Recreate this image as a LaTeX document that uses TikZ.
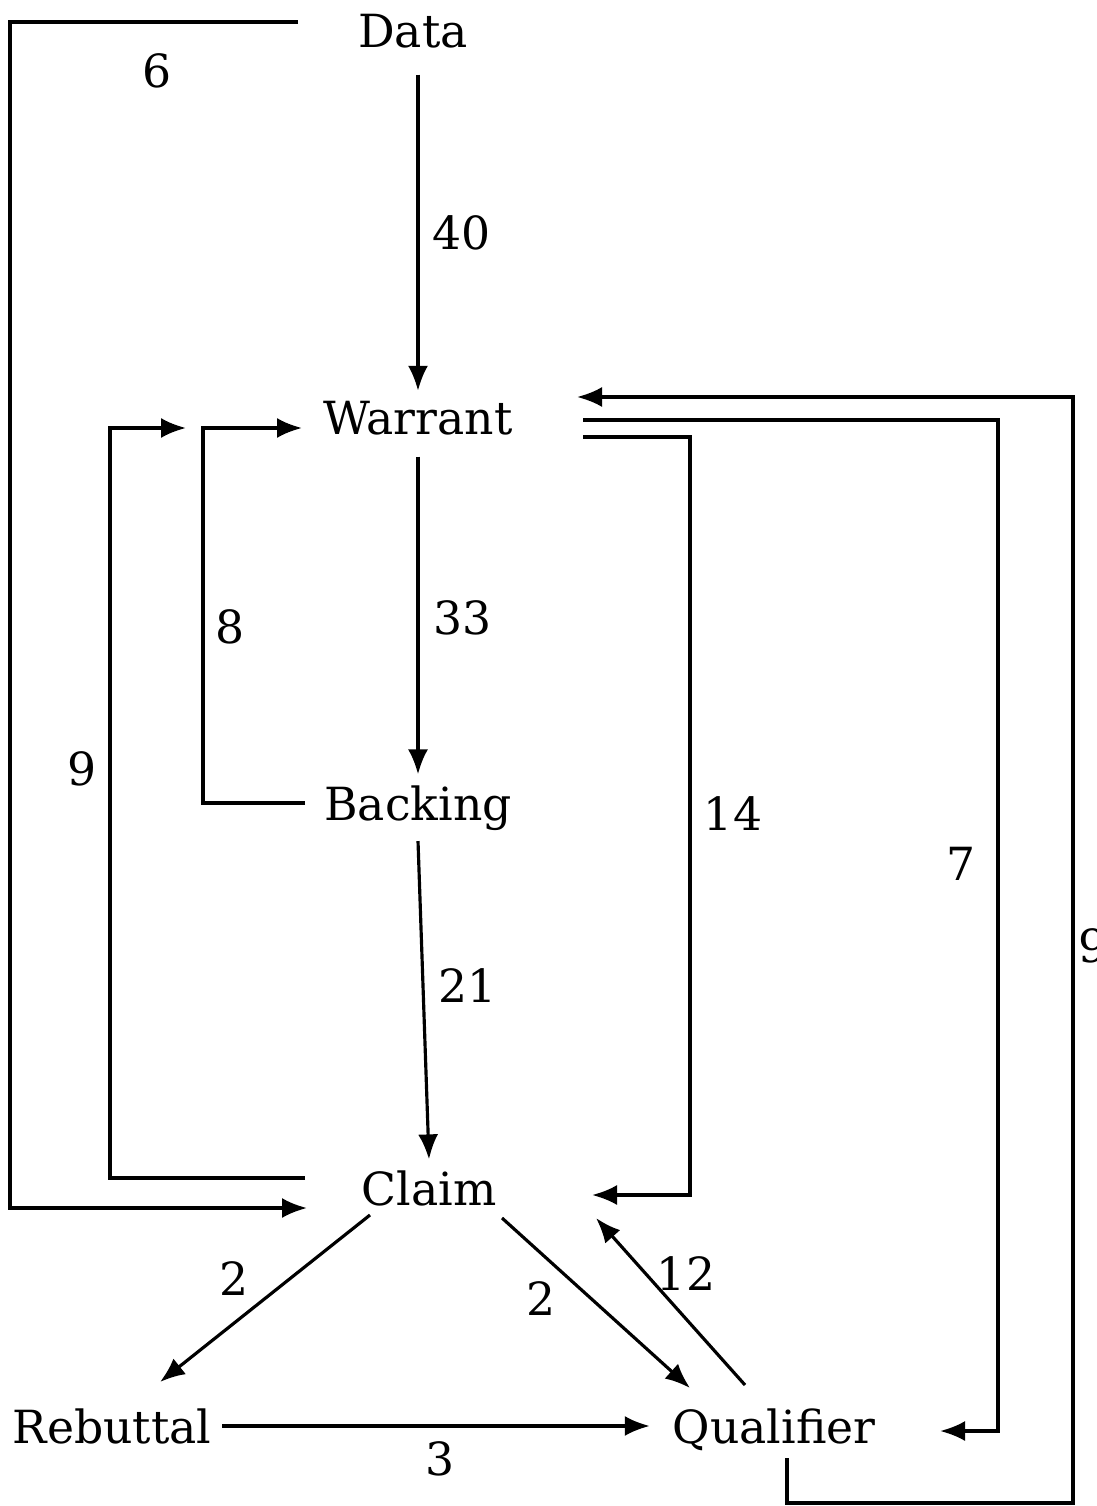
\documentclass[tikz,border=0pt]{standalone}
\usepackage{fontspec}
\setmainfont{DejaVu Serif}
\usetikzlibrary{arrows.meta}

\begin{document}
\begin{tikzpicture}[
    x=0.02cm, y=-0.02cm,
    term/.style={font=\fontsize{26}{31}\selectfont, inner sep=6pt, anchor=base},
    num/.style={font=\fontsize{26}{31}\selectfont, inner sep=0pt, anchor=base},
    link/.style={line width=1.8pt},
    arr/.style={link, -{Latex[length=5mm, width=4mm]}},
]
\useasboundingbox (0,0) rectangle (1097,1506);

% the six parts
\node[term] (data)      at (413,48)   {Data};
\node[term] (warrant)   at (418,435)  {Warrant};
\node[term] (backing)   at (418,820)  {Backing};
\node[term] (claim)     at (429,1205) {Claim};
\node[term] (rebuttal)  at (112,1443) {Rebuttal};
\node[term] (qualifier) at (774,1443) {Qualifier};

% straight links
\draw[arr, shorten <=0.3cm] (warrant.north |- data.south) -- (warrant.north);
\draw[arr, shorten <=0.2cm] (warrant.south) -- (backing.north);
\draw[arr] (backing.south) -- (claim.north);
\draw[arr, shorten >=0.24cm] (rebuttal.east) -- (rebuttal.east -| qualifier.west);

% diagonal links
\coordinate (cr1) at (370,1215);
\coordinate (cr2) at (160,1382);
\coordinate (cq1) at (502,1218);
\coordinate (cq2) at (690,1388);
\coordinate (qc1) at (745,1385);
\coordinate (qc2) at (596,1218);
\draw[arr] (cr1) -- (cr2);
\draw[arr] (cq1) -- (cq2);
\draw[arr] (qc1) -- (qc2);

% loops round the outside
\coordinate (d6s) at (298,22);
\coordinate (k6)  at (10,22);
\coordinate (c6e) at (307,1208);
\draw[arr] (d6s) -- (k6) |- (c6e);

\coordinate (b8s) at (305,803);
\coordinate (k8)  at (203,803);
\coordinate (w8e) at (302,428);
\draw[arr] (b8s) -- (k8) |- (w8e);

\coordinate (c9s) at (305,1178);
\coordinate (k9)  at (110,1178);
\coordinate (w9e) at (186,428);
\draw[arr] (c9s) -- (k9) |- (w9e);

\coordinate (w14s) at (583,437);
\coordinate (k14)  at (690,437);
\coordinate (c14e) at (592,1195);
\draw[arr] (w14s) -- (k14) |- (c14e);

\coordinate (w7s) at (583,420);
\coordinate (k7)  at (998,420);
\coordinate (q7e) at (940,1431);
\draw[arr] (w7s) -- (k7) |- (q7e);

\coordinate (q9s) at (787,1458);
\coordinate (k9r) at (1073,1503);
\coordinate (w9r) at (577,397);
\draw[arr] (q9s) |- (k9r) |- (w9r);

% counts
\node[num] (n6)   at (157,88)   {6};
\node[num] (n40)  at (462,250)  {40};
\node[num] (n33)  at (463,634)  {33};
\node[num] (n8)   at (230,643)  {8};
\node[num] (n9l)  at (82,785)   {9};
\node[num] (n14)  at (733,830)  {14};
\node[num] (n7)   at (961,880)  {7};
\node[num] (n21)  at (468,1002) {21};
\node[num] (n2l)  at (234,1295) {2};
\node[num] (n2r)  at (541,1315) {2};
\node[num] (n12)  at (686,1290) {12};
\node[num] (n3)   at (440,1475) {3};
\node[num] (n9r)  at (1093,962) {9};

\end{tikzpicture}
\end{document}
